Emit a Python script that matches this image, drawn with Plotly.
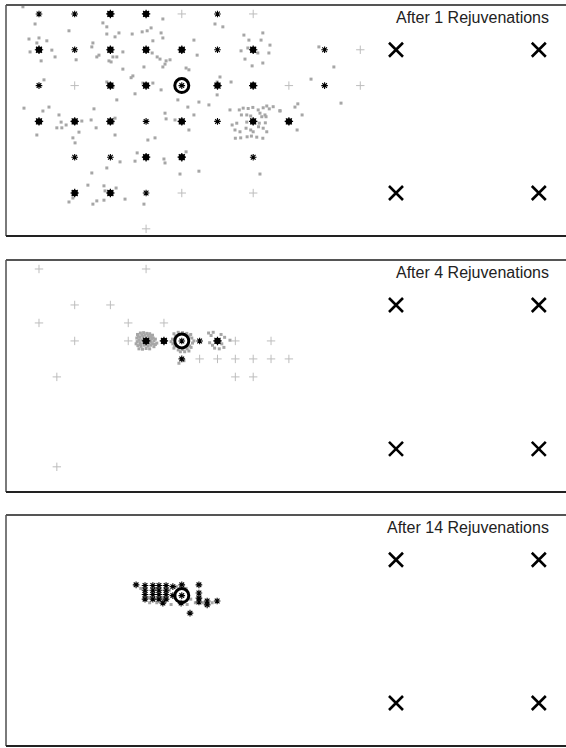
import plotly.graph_objects as go

# ---------------- data (grid units; y grows downward) ----------------
titles = ["After 1 Rejuvenations", "After 4 Rejuvenations", "After 14 Rejuvenations"]

goal_x = [4.0]
goal_y = [2.0]
corner_x = [10, 14, 10, 14]
corner_y = [1, 1, 5, 5]

# Panel 1
p1_big_x = [2, 3, 0, 2, 3, 4, 6, 2, 3, 5, 6, 0, 1, 2, 4, 6, 7, 3, 4, 1, 2]
p1_big_y = [0, 0, 1, 1, 1, 1, 1, 2, 2, 2, 2, 3, 3, 3, 3, 3, 3, 4, 4, 5, 5]
p1_small_x = [0, 1, 5, 1, 5, 8, 0, 4, 8, 3, 5, 1, 2, 6, 3]
p1_small_y = [0, 0, 0, 1, 1, 1, 2, 2, 2, 3, 3, 4, 4, 4, 5]
p1_plus_x = [4, 6, 9, 1, 7, 9, 4, 6, 3]
p1_plus_y = [0, 0, 1, 2, 2, 2, 5, 5, 6]
p1_dot_x = [-0.45, -0.11, 0.84, 1.79, 1.90, 1.90, 2.13, 2.24, 2.61, 2.89, 3.03, 3.14, 3.47, 3.42, 3.47, 3.19,
            -0.28, 0.00, -0.06, 0.22, -0.25, 0.36, 0.45, 0.06, 1.04, 1.51, 1.48, 1.68, 1.62, 1.96, 2.02, 2.07,
            2.18, 2.35, 2.35, 2.63, 2.58, 2.94, 3.17, 3.31, 3.39, 3.56, 3.67, 3.47, 3.53, 4.12, 4.20, 4.34,
            4.43, 4.93, 5.15, 5.07, 4.99, 5.38,
            5.74, 5.88, 6.27, 6.22, 6.47, 6.44, 6.27, 5.97, 5.77, 5.66, 5.85, 6.13,
            0.14, 1.90, 2.07, 2.91, 3.19, 3.42, 2.69, 2.18, 4.99, 3.89, 4.17, 4.48, 4.76, -0.42, 0.11, 0.28,
            0.56, 0.62, 0.50, 0.64, 0.76, -0.06, 1.12, 1.20, 1.46, 1.54, 1.60, 2.13, 2.07, 2.13, 0.95, 1.01,
            3.53, 3.56, 3.81, 4.34, 4.20, 3.05, 3.25, 5.35, 5.41,
            5.61, 5.72, 5.86, 5.99, 6.14, 6.28, 6.38, 6.45, 6.56, 6.75, 5.67, 5.82, 5.93, 6.19, 6.33, 5.54,
            5.82, 6.17, 6.34, 5.49, 5.63, 5.80, 5.93, 6.00, 6.15, 6.28, 6.38, 5.50, 5.65, 5.83, 6.10, 6.27,
            5.95, 6.24, 6.36,
            2.75, 2.69, 2.27, 1.90, 1.48, 3.50, 3.53, 4.12, 3.95, 4.48, 6.19, 1.37, 1.82, 1.85, 2.16, 0.95,
            0.84, 1.51, 1.62, 1.82, 2.41, 2.94,
            7.84, 8.26, 7.62, 8.46, 7.25, 7.17, 7.37, 7.23, 6.75]
p1_dot_y = [-0.20, 0.28, 0.47, 0.25, 0.36, 0.56, 0.64, 0.53, 0.56, 0.50, 0.47, 0.39, 0.14, 0.53, 0.67, 0.75,
            0.70, 0.67, 0.81, 0.75, 1.06, 1.01, 1.20, 1.31, 1.28, 0.81, 0.92, 1.15, 1.20, 1.31, 1.34, 1.20,
            1.20, 1.06, 1.54, 1.73, 1.78, 1.48, 1.09, 1.20, 1.26, 1.31, 1.28, 1.48, 1.40, 1.51, 1.56, 0.73,
            1.15, 0.28, 0.36, 1.76, 1.90, 1.90,
            0.59, 0.73, 0.53, 0.73, 0.87, 1.09, 1.37, 1.45, 1.26, 1.03, 0.95, 1.09,
            1.84, 1.90, 2.04, 1.93, 1.93, 2.12, 2.23, 2.40, 2.26, 2.40, 2.60, 2.46, 2.54, 2.63, 2.71, 2.60,
            2.82, 3.02, 3.18, 3.18, 3.10, 3.38, 3.30, 2.99, 2.96, 2.65, 3.18, 2.91, 3.02, 3.38, 3.46, 3.60,
            2.77, 2.93, 2.96, 2.82, 3.24, 3.52, 3.46, 2.68, 3.10,
            2.68, 2.63, 2.64, 2.61, 2.68, 2.62, 2.57, 2.65, 2.59, 2.70, 2.82, 2.82, 2.85, 2.77, 2.82, 3.05,
            3.02, 3.05, 3.04, 3.24, 3.29, 3.19, 3.24, 3.29, 3.15, 3.19, 3.29, 3.47, 3.46, 3.43, 3.44, 3.47,
            3.41, 2.87, 2.87,
            3.88, 4.11, 4.13, 4.30, 4.44, 4.05, 4.16, 3.85, 4.47, 4.39, 4.47, 4.78, 4.80, 4.94, 4.86, 5.14,
            5.25, 5.31, 5.22, 5.20, 5.17, 5.31,
            0.92, 1.48, 1.82, 2.49, 2.51, 2.60, 2.82, 3.24, 2.71]

# Panel 2
p2_big_x = [3.0, 3.5, 5.0]
p2_big_y = [2.0, 2.0, 2.0]
p2_small_x = [4.0, 4.5, 4.0]
p2_small_y = [2.0, 2.0, 2.5]
p2_plus_x = [0, 3, 1, 2, 0, 2.5, 3.5, 1, 2.5, 5.5, 6.5, 4.5, 5, 5.5, 6, 6.5, 7, 0.5, 5.5, 6, 0.5]
p2_plus_y = [0, 0, 1, 1, 1.5, 1.5, 1.5, 2, 2, 2, 2, 2.5, 2.5, 2.5, 2.5, 2.5, 2.5, 3, 3, 3, 5.5]
p2_dot_x = [2.76, 2.84, 2.93, 3.02, 3.10, 3.18, 2.74, 2.82, 2.91, 3.08, 3.16, 3.26, 2.75, 2.83, 3.14, 3.22,
            3.30, 2.77, 2.86, 2.95, 3.05, 3.13, 3.22, 2.80, 2.90, 3.00, 3.10,
            2.80, 2.88, 2.96, 3.04, 3.12, 3.20, 2.78, 2.88, 2.97, 3.06, 3.14, 2.84, 2.92, 3.00, 3.08, 3.18,
            3.26, 2.72,
            3.78, 3.90, 4.02, 4.14, 4.25, 3.74, 4.28, 3.75, 4.30, 3.78, 3.90, 4.03, 4.15, 4.26, 4.20,
            3.82, 4.20, 3.80, 4.22, 4.08, 3.96, 3.70, 4.34,
            4.75, 4.88, 4.82, 5.10, 5.20, 4.78, 4.86, 5.12, 5.18, 5.05, 4.92, 5.35,
            3.92, 4.06]
p2_dot_y = [1.82, 1.78, 1.77, 1.79, 1.80, 1.84, 1.92, 1.90, 1.88, 1.90, 1.93, 1.95, 2.02, 2.05, 2.03, 2.00,
            2.06, 2.13, 2.15, 2.12, 2.14, 2.12, 2.16, 2.22, 2.23, 2.21, 2.22,
            1.98, 1.97, 1.95, 1.96, 1.97, 1.92, 1.86, 1.84, 1.84, 1.85, 1.87, 2.10, 2.06, 2.08, 2.06, 2.08,
            2.10, 2.08,
            1.80, 1.76, 1.77, 1.79, 1.82, 1.95, 1.92, 2.08, 2.06, 2.20, 2.25, 2.24, 2.22, 2.18, 2.28,
            1.86, 1.86, 2.14, 2.14, 2.30, 2.30, 2.02, 2.00,
            1.78, 1.76, 1.85, 1.82, 1.90, 2.05, 2.12, 2.08, 2.18, 2.22, 2.20, 1.98,
            2.62, 2.55]

# Panel 3
p3_small_x = [2.72, 2.97, 2.97, 2.97, 2.97, 3.19, 3.19, 3.19, 3.19, 3.36, 3.36, 3.36, 3.36,
              3.56, 3.56, 3.56, 3.56, 3.75, 3.75, 4.00, 4.00, 4.48, 4.48, 4.48, 4.48, 4.71, 4.71,
              4.99, 3.47, 3.98, 4.23]
p3_small_y = [1.70, 1.72, 1.85, 1.97, 2.10, 1.72, 1.85, 1.97, 2.10, 1.72, 1.85, 1.97, 2.10,
              1.72, 1.85, 1.97, 2.10, 1.75, 2.00, 1.70, 2.00, 1.70, 1.93, 2.07, 2.18, 2.15, 2.26,
              2.15, 2.21, 2.21, 2.49]
p3_dot_x = [2.85, 3.08, 3.28, 3.46, 3.65, 3.85, 4.12, 4.25, 4.38, 4.60, 4.85, 3.10, 3.30, 3.50, 3.70, 4.15]
p3_dot_y = [1.80, 2.05, 1.80, 2.05, 1.85, 1.75, 1.80, 2.10, 2.20, 2.20, 2.20, 2.20, 2.20, 2.15, 2.25, 2.25]

panels = [
    dict(big=(p1_big_x, p1_big_y), small=(p1_small_x, p1_small_y), plus=(p1_plus_x, p1_plus_y),
         dots=(p1_dot_x, p1_dot_y)),
    dict(big=(p2_big_x, p2_big_y), small=(p2_small_x, p2_small_y), plus=(p2_plus_x, p2_plus_y),
         dots=(p2_dot_x, p2_dot_y)),
    dict(big=([], []), small=(p3_small_x, p3_small_y), plus=([], []), dots=(p3_dot_x, p3_dot_y)),
]

# ---------------- figure ----------------
W, H = 566, 748
fig = go.Figure()
panel_px = [(5, 236), (260, 492), (515, 746)]
X_RANGE = [-0.924, 14.762]
Y_RANGE = [6.2, -0.25]
GREY_DOT = "#a6a6a6"
GREY_PLUS = "#bdbdbd"

layout = dict(width=W, height=H, margin=dict(l=0, r=0, t=0, b=0),
              plot_bgcolor="white", paper_bgcolor="white", showlegend=False)

for k, p in enumerate(panels):
    n = "" if k == 0 else str(k + 1)
    xa, ya = "x" + n, "y" + n
    top, bot = panel_px[k]
    layout["xaxis" + n] = dict(domain=[6 / W, 1], range=X_RANGE, visible=False, fixedrange=True,
                               anchor=ya)
    layout["yaxis" + n] = dict(domain=[1 - bot / H, 1 - top / H], range=Y_RANGE, visible=False,
                               fixedrange=True, anchor=xa)

    fig.add_trace(go.Scatter(x=p["dots"][0], y=p["dots"][1], mode="markers", xaxis=xa, yaxis=ya,
                             marker=dict(symbol="square", size=3, color=GREY_DOT, line=dict(width=0))))
    fig.add_trace(go.Scatter(x=p["plus"][0], y=p["plus"][1], mode="markers", xaxis=xa, yaxis=ya,
                             marker=dict(symbol="cross-thin-open", size=6, color=GREY_PLUS,
                                         line=dict(width=1, color=GREY_PLUS))))
    fig.add_trace(go.Scatter(x=p["big"][0], y=p["big"][1], mode="markers", xaxis=xa, yaxis=ya,
                             marker=dict(symbol="circle", size=6.5, color="black", line=dict(width=0))))
    fig.add_trace(go.Scatter(x=p["big"][0], y=p["big"][1], mode="markers", xaxis=xa, yaxis=ya,
                             marker=dict(symbol="asterisk-open", size=7, color="black",
                                         line=dict(width=1.2, color="black"))))
    fig.add_trace(go.Scatter(x=p["small"][0], y=p["small"][1], mode="markers", xaxis=xa, yaxis=ya,
                             marker=dict(symbol="asterisk-open", size=5.5, color="black",
                                         line=dict(width=1.1, color="black"))))
    fig.add_trace(go.Scatter(x=goal_x, y=goal_y, mode="markers", xaxis=xa, yaxis=ya,
                             marker=dict(symbol="circle-open", size=14, color="black",
                                         line=dict(width=3, color="black"))))
    fig.add_trace(go.Scatter(x=corner_x, y=corner_y, mode="markers", xaxis=xa, yaxis=ya,
                             marker=dict(symbol="x-thin-open", size=14, color="black",
                                         line=dict(width=2.6, color="black"))))

    xd, yd = xa + " domain", ya + " domain"
    for (x0, y0, x1, y1, c) in [(0, 0, 0, 1, "#7a7a7a"), (0, 1, 1, 1, "#555555"), (0, 0, 1, 0, "#222222")]:
        fig.add_shape(type="line", xref=xd, yref=yd, x0=x0, y0=y0, x1=x1, y1=y1,
                      line=dict(color=c, width=2))
    fig.add_annotation(text=titles[k], xref=xd, yref=yd, x=(551 - 6) / 560, y=1 - 12 / 231,
                       xanchor="right", yanchor="middle", showarrow=False,
                       font=dict(family="Liberation Sans, Arial, sans-serif", size=16, color="#222222"))

fig.update_layout(**layout)
fig.write_html("out.html", config={"displayModeBar": False},
               post_script="document.body.style.margin='0';document.body.style.overflow='hidden';")
